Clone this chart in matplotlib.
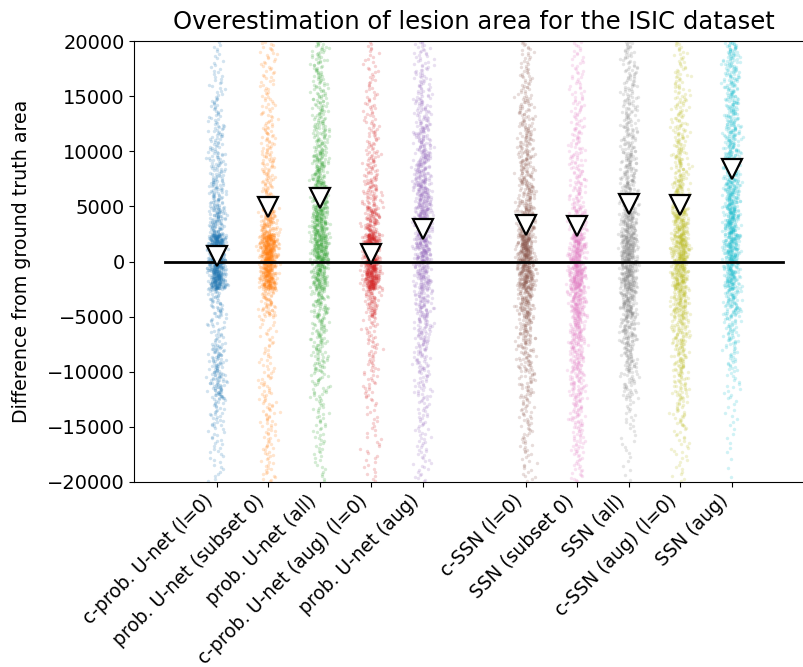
import matplotlib.pyplot as plt
import numpy as np

# model names (x axis)
models = ['c-prob. U-net (l=0)', 'prob. U-net (subset 0)', 'prob. U-net (all)',
          'c-prob. U-net (aug) (l=0)', 'prob. U-net (aug)',
          'c-SSN (l=0)', 'SSN (subset 0)', 'SSN (all)', 'c-SSN (aug) (l=0)', 'SSN (aug)']
positions = [0, 1, 2, 3, 4, 6, 7, 8, 9, 10]

# mean difference per model (triangle markers)
means = [500, 4950, 5750, 650, 2950, 3300, 3250, 5200, 5100, 8400]

# histogram of differences, bins of 2500 from -20000 to 20000
bin_edges = np.arange(-20000, 20001, 2500)
counts = {
    'c-prob. U-net (l=0)':       [12, 18, 30, 70, 60, 30, 45, 300, 340, 100, 65, 50, 38, 27, 18, 12],
    'prob. U-net (subset 0)':    [20, 24, 27, 24, 18, 18, 60, 250, 330, 120, 45, 42, 33, 24, 21, 22],
    'prob. U-net (all)':         [12, 18, 21, 30, 45, 52, 68, 135, 195, 165, 120, 90, 60, 48, 42, 38],
    'c-prob. U-net (aug) (l=0)': [12, 12, 12, 21, 24, 27, 68, 285, 300, 105, 60, 42, 30, 24, 18, 15],
    'prob. U-net (aug)':         [18, 21, 24, 33, 45, 60, 75, 105, 150, 150, 128, 98, 75, 52, 38, 30],
    'c-SSN (l=0)':               [15, 21, 27, 38, 52, 68, 105, 195, 225, 120, 82, 68, 57, 42, 30, 22],
    'SSN (subset 0)':            [22, 33, 45, 60, 75, 98, 135, 195, 165, 75, 45, 38, 33, 27, 22, 18],
    'SSN (all)':                 [6, 9, 15, 38, 60, 82, 120, 165, 180, 128, 82, 68, 52, 45, 38, 33],
    'c-SSN (aug) (l=0)':         [12, 18, 30, 45, 60, 75, 112, 165, 195, 142, 82, 60, 48, 38, 30, 22],
    'SSN (aug)':                 [3, 6, 9, 15, 27, 45, 82, 135, 165, 158, 135, 112, 90, 75, 68, 68],
}

colors = plt.rcParams['axes.prop_cycle'].by_key()['color']


def spread(i, seed):
    # deterministic hash in [0, 1) used for the horizontal jitter
    return np.mod(np.sin(i * 12.9898 + seed * 78.233) * 43758.5453, 1.0)


fig = plt.figure(figsize=(8.04, 6.67), dpi=100)
ax = fig.add_axes([0.1672, 0.2774, 0.8453, 0.661])

for k, (name, pos) in enumerate(zip(models, positions)):
    ys = []
    for lo, hi, n in zip(bin_edges[:-1], bin_edges[1:], counts[name]):
        ys.append(lo + (hi - lo) * (np.arange(n) + 0.5) / n)
    ys = np.concatenate(ys)
    i = np.arange(len(ys)) + 3000 * k
    off = 0.16 * (spread(i, 1) + spread(i, 2) + spread(i, 3) - 1.5)
    ax.scatter(pos + off, ys, s=6, color=colors[k], alpha=0.2, linewidths=0, zorder=2)

ax.plot([-1, 11], [0, 0], color='black', lw=2, zorder=3)
ax.plot(positions, means, linestyle='none', marker='v', markersize=15,
        markerfacecolor='white', markeredgecolor='black', markeredgewidth=1.6, zorder=4)

ax.set_xlim(-1.6, 11.6)
ax.set_ylim(-20000, 20000)
ax.set_yticks(np.arange(-20000, 20001, 5000))
ax.set_xticks(positions)
ax.set_xticklabels(models, rotation=45, ha='right')
ax.tick_params(labelsize=14)
ax.tick_params(axis='x', labelsize=13.4, pad=3)
ax.set_ylabel('Difference from ground truth area', fontsize=13.7, labelpad=11)
ax.set_title('Overestimation of lesion area for the ISIC dataset', fontsize=17.5, pad=9)

plt.savefig('out.png', dpi=100)
